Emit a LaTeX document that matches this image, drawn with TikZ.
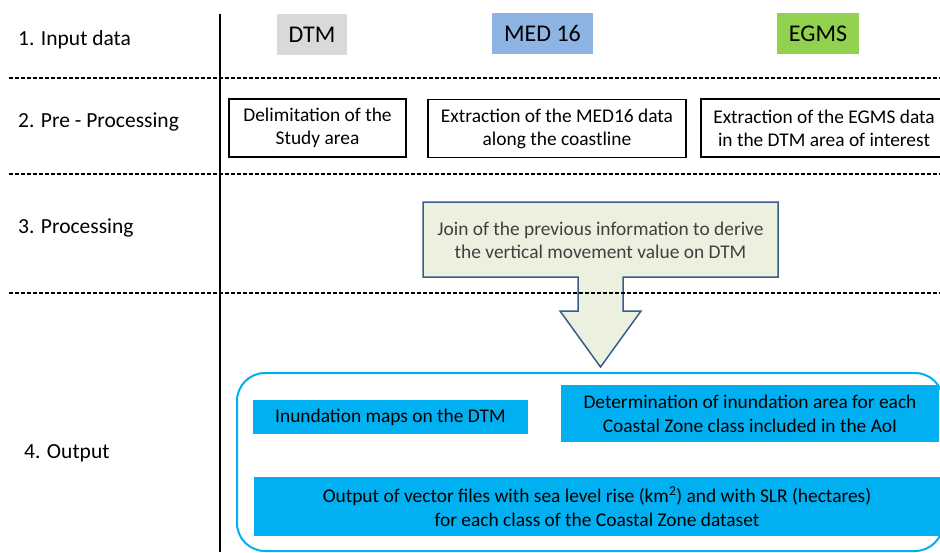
\documentclass[tikz,border=0pt]{standalone}
\usepackage{fontspec}
\setmainfont{Carlito}
\usepackage{xcolor}
\usetikzlibrary{positioning}
\definecolor{dtmgray}{HTML}{D9D9D9}
\definecolor{medblue}{HTML}{8EB4E3}
\definecolor{egmsgreen}{HTML}{92D050}
\definecolor{joinfill}{HTML}{EBF1DE}
\definecolor{joinline}{HTML}{385D8A}
\definecolor{outcyan}{HTML}{00B0F0}

\begin{document}
\begin{tikzpicture}[x=1pt,y=-1pt,
 stage/.style={anchor=west,inner sep=0pt,font=\fontsize{21.5}{26}\selectfont},
 src/.style={inner sep=0pt,minimum height=41pt,font=\fontsize{24}{28}\selectfont},
 prebox/.style={draw,line width=1.1pt,align=center,inner sep=0pt,minimum height=58pt,font=\fontsize{19.4}{23}\selectfont},
 outbox/.style={fill=outcyan,align=center,inner sep=0pt,font=\fontsize{19.4}{24}\selectfont},
 sep/.style={dashed,dash pattern=on 4pt off 2pt,line width=1.2pt}
]
\clip (0,0) rectangle (940,552);
\node[stage] (s1) at (18,40) {1. Input data};
\node[stage] (s2) at (18,122) {2. Pre - Processing};
\node[stage] (s3) at (18,228) {3. Processing};
\node[stage] (s4) at (24,453) {4. Output};
\node[src,fill=dtmgray,minimum width=70pt] (dtm) at (312,34.5) {DTM};
\node[src,fill=medblue,minimum width=101pt] (med) at (542.5,33.5) {MED 16};
\node[src,fill=egmsgreen,minimum width=82pt] (egms) at (818,33.5) {EGMS};
\node[prebox,minimum width=177pt] (study) at (317.5,128) {Delimitation of the\\Study area};
\node[prebox,minimum width=258pt] (medex) at (557,128.5) {Extraction of the MED16 data\\along the coastline};
\node[prebox,minimum width=246pt] (egmsex) at (824,128) {Extraction of the EGMS data\\in the DTM area of interest};
\draw[joinline,fill=joinfill,line width=1.5pt,line join=miter]
 (423,202) -- (778,202) -- (778,277) -- (623,277) -- (623,311) -- (641,311) -- (600.5,367)
 -- (560,311) -- (578,311) -- (578,277) -- (423,277) -- cycle;
\node[align=center,text=black!75,font=\fontsize{19.4}{23}\selectfont] (join) at (600.5,240) {Join of the previous information to derive\\the vertical movement value on DTM};
\draw[outcyan,line width=2pt,rounded corners=28pt] (237,373) rectangle (943,551);
\node[outbox,minimum width=275pt,minimum height=34pt] (maps) at (390.5,417) {Inundation maps on the DTM};
\node[outbox,minimum width=378pt,minimum height=57pt] (area) at (750,413.5) {Determination of inundation area for each\\Coastal Zone class included in the AoI};
\node[outbox,minimum width=686pt,minimum height=59pt] (vect) at (597,506.5) {Output of vector files with sea level rise (km\textsuperscript{2}) and with SLR (hectares)\\for each class of the Coastal Zone dataset};
\draw[line width=2.5pt] (220,14) -- (220,552);
\draw[sep] (9,78) -- (940,78);
\draw[sep] (9,174) -- (940,174);
\draw[sep] (9,293) -- (940,293);
\end{tikzpicture}
\end{document}
